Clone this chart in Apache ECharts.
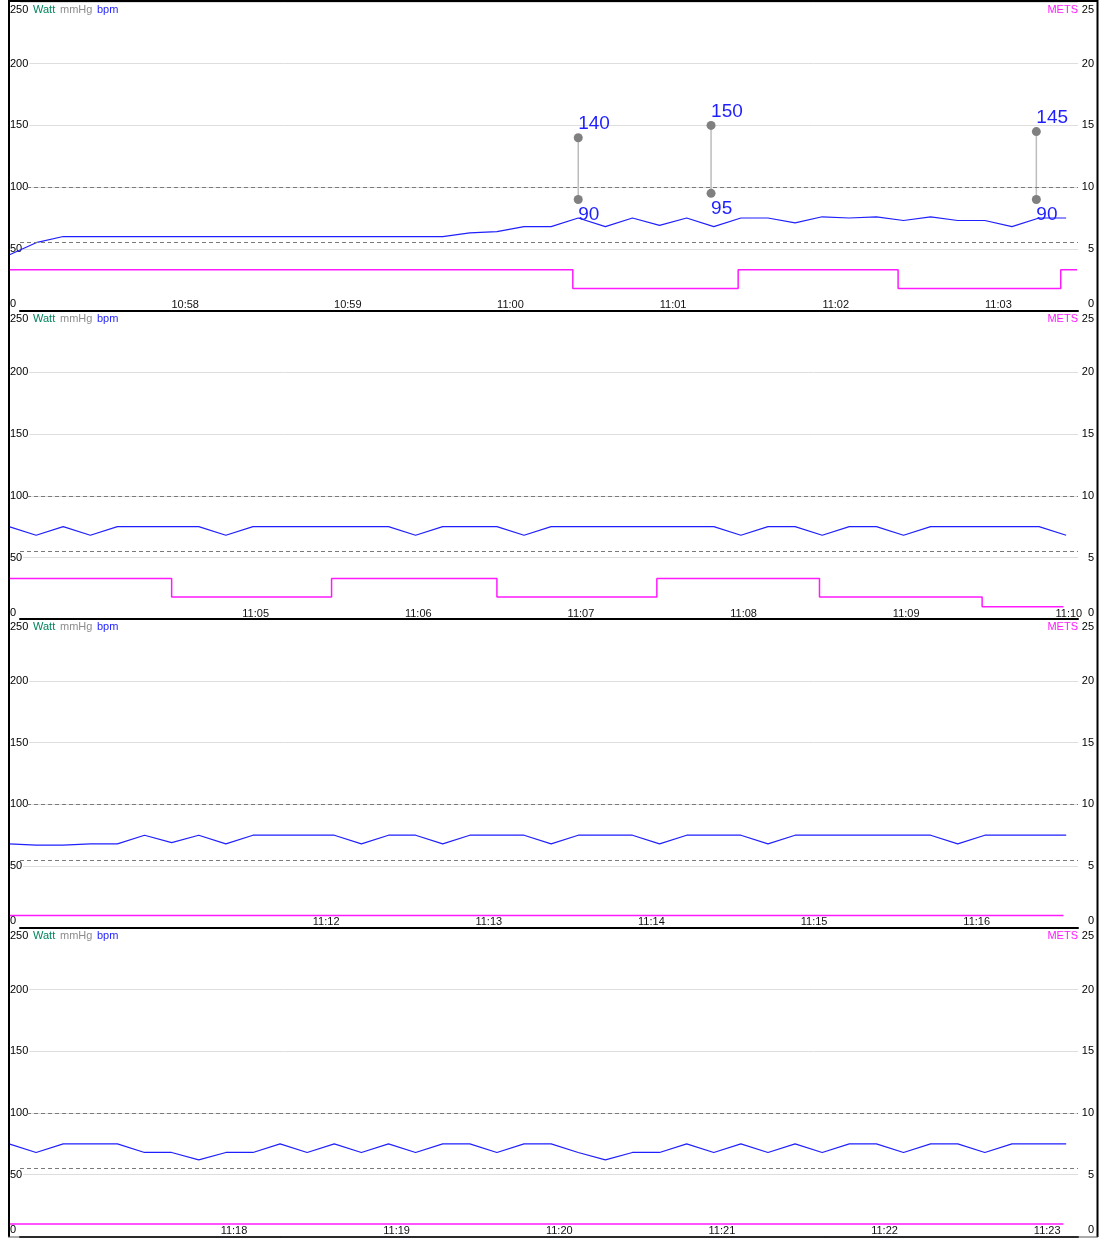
<!DOCTYPE html>
<html>
<head>
<meta charset="utf-8">
<title>HR / METS trend</title>
<script src="https://cdn.jsdelivr.net/npm/echarts@6/dist/echarts.min.js"></script>
<style>
  html, body { margin: 0; padding: 0; background: #fff; }
  #chart { width: 1100px; height: 1243px; }
</style>
</head>
<body>
<div id="chart"></div>
<script>
// each row shows 394 s of the recording
var rowStarts = ['10:56:55', '11:03:29', '11:10:03', '11:16:37']
var rowSeconds = 394
var rowTicks = [
  ['10:58', '10:59', '11:00', '11:01', '11:02', '11:03'],
  ['11:05', '11:06', '11:07', '11:08', '11:09', '11:10'],
  ['11:12', '11:13', '11:14', '11:15', '11:16'],
  ['11:18', '11:19', '11:20', '11:21', '11:22', '11:23']
]

// heart rate (bpm), one reading every 10 s from the row start
var hrStep = 10
var hrRow1 = [45, 55, 60, 60, 60, 60, 60, 60, 60, 60, 60, 60, 60, 60, 60, 60, 60, 63, 64, 68,
  68, 75, 68, 75, 69, 75, 68, 75, 75, 71, 76, 75, 76, 73, 76, 73, 73, 68, 75, 75]
var hrRow2 = [75, 68, 75, 68, 75, 75, 75, 75, 68, 75, 75, 75, 75, 75, 75, 68, 75, 75, 75, 68,
  75, 75, 75, 75, 75, 75, 75, 68, 75, 75, 68, 75, 75, 68, 75, 75, 75, 75, 75, 68]
var hrRow3 = [68, 67, 67, 68, 68, 75, 69, 75, 68, 75, 75, 75, 75, 68, 75, 75, 68, 75, 75, 75,
  68, 75, 75, 75, 68, 75, 75, 75, 68, 75, 75, 75, 75, 75, 75, 68, 75, 75, 75, 75]
var hrRow4 = [75, 68, 75, 75, 75, 68, 68, 62, 68, 68, 75, 68, 75, 68, 75, 68, 75, 75, 68, 75,
  75, 68, 62, 68, 68, 75, 68, 75, 68, 75, 68, 75, 75, 68, 75, 75, 68, 75, 75, 75]
var hrRows = [hrRow1, hrRow2, hrRow3, hrRow4]
var hrLimits = [100, 55]

// METS: each value holds from its time until the next one
var metsTimes = [
  ['10:56:55', '11:00:23', '11:01:24', '11:02:23', '11:03:23', '11:03:29'],
  ['11:03:29', '11:04:29', '11:05:28', '11:06:29', '11:07:28', '11:08:28', '11:09:28', '11:09:58'],
  ['11:10:03', '11:16:32'],
  ['11:16:37', '11:23:06']
]
var metsValues = [
  [3.3, 1.8, 3.3, 1.8, 3.3, 3.3],
  [3.3, 1.8, 3.3, 1.8, 3.3, 1.8, 1.0, 1.0],
  [1.0, 1.0],
  [1.0, 1.0]
]

// blood pressure (mmHg)
var bpTimes = ['11:00:25', '11:01:14', '11:03:14']
var bpSys = [140, 150, 145]
var bpDia = [90, 95, 90]

var FONT = '"Liberation Sans", Arial, sans-serif'
var BLUE = '#1f1fff'
var PINK = '#ff1aff'

function sec (s) {
  var p = s.split(':')
  return (+p[0]) * 3600 + (+p[1]) * 60 + (+(p[2] || 0))
}
function hhmm (v) {
  var m = Math.round(v / 60)
  var h = Math.floor(m / 60)
  m = m % 60
  return h + ':' + (m < 10 ? '0' + m : m)
}

var chart = echarts.init(document.getElementById('chart'))
var rowH = 308.6
var grids = []; var xAxes = []; var yAxes = []; var series = []; var graphics = []

rowStarts.forEach(function (s, r) {
  var t0 = sec(s)
  var t1 = t0 + rowSeconds
  var top = 2 + rowH * r
  var gBg = grids.length
  grids.push({ left: 20, right: 22, top: top, height: rowH })
  grids.push({ left: 9, right: 23, top: top, height: rowH })

  // background grid: grid lines and the black base line
  xAxes.push({
    gridIndex: gBg, type: 'value', min: 0, max: 1, z: 0,
    axisLine: { show: true, onZero: false, lineStyle: { color: '#000', width: 2 } },
    axisTick: { show: false }, axisLabel: { show: false }, splitLine: { show: false }
  })
  var yBg = yAxes.length
  yAxes.push({
    gridIndex: gBg, type: 'value', min: 0, max: 250, interval: 50, z: 0,
    axisLine: { show: false }, axisTick: { show: false }, axisLabel: { show: false },
    splitLine: { show: true, lineStyle: { color: '#dedede', width: 1 } }
  })

  // data grid
  var xData = xAxes.length
  xAxes.push({
    gridIndex: gBg + 1, type: 'value', min: t0, max: t1, z: 1,
    axisLine: { show: false }, axisTick: { show: false }, splitLine: { show: false },
    axisLabel: {
      inside: true, margin: 0, color: '#111', fontSize: 11, fontFamily: FONT,
      customValues: rowTicks[r].map(sec), formatter: hhmm
    }
  })
  var yLeft = yAxes.length
  yAxes.push({
    gridIndex: gBg + 1, type: 'value', position: 'left', min: 0, max: 250, interval: 50, z: 1,
    axisLine: { show: false }, axisTick: { show: false }, splitLine: { show: false },
    axisLabel: {
      inside: true, margin: 1, color: '#000', fontSize: 11, fontFamily: FONT,
      formatter: function (v) { return v === 250 ? '{hi|250}' : v === 0 ? '{lo|0}' : '{n|' + v + '}' },
      rich: {
        hi: { fontSize: 11, fontFamily: FONT, color: '#000', padding: [16, 0, 0, 0] },
        lo: { fontSize: 11, fontFamily: FONT, color: '#000', padding: [0, 0, 13, 0] },
        n: { fontSize: 11, fontFamily: FONT, color: '#000', backgroundColor: '#fff', padding: [0, 1, 0, 0] }
      }
    }
  })
  var yRight = yAxes.length
  yAxes.push({
    gridIndex: gBg + 1, type: 'value', position: 'right', min: 0, max: 25, interval: 5, z: 1,
    axisLine: { show: false }, axisTick: { show: false }, splitLine: { show: false },
    axisLabel: {
      margin: 17, align: 'right', color: '#000', fontSize: 11, fontFamily: FONT,
      formatter: function (v) { return v === 25 ? '{hi|25}' : v === 0 ? '{lo|0}' : '{n|' + v + '}' },
      rich: {
        hi: { fontSize: 11, fontFamily: FONT, color: '#000', padding: [16, 0, 0, 0] },
        lo: { fontSize: 11, fontFamily: FONT, color: '#000', padding: [0, 0, 13, 0] },
        n: { fontSize: 11, fontFamily: FONT, color: '#000' }
      }
    }
  })

  // dashed limit lines
  series.push({
    type: 'line', xAxisIndex: gBg, yAxisIndex: yBg, data: [], z: 0, silent: true,
    markLine: {
      silent: true, symbol: 'none', animation: false,
      label: { show: false },
      lineStyle: { color: '#7a7a7a', type: [4, 3], width: 1 },
      data: hrLimits.map(function (v) { return { yAxis: v } })
    }
  })

  // METS
  series.push({
    name: 'METS', type: 'line', step: 'end', xAxisIndex: xData, yAxisIndex: yRight,
    showSymbol: false, lineStyle: { color: PINK, width: 1.5 }, z: 2,
    data: metsTimes[r].map(function (t, i) { return [sec(t), metsValues[r][i]] })
  })

  // heart rate
  series.push({
    name: 'bpm', type: 'line', xAxisIndex: xData, yAxisIndex: yLeft,
    showSymbol: false, lineStyle: { color: BLUE, width: 1.2 }, z: 3,
    data: hrRows[r].map(function (v, i) { return [t0 + i * hrStep, v] })
  })

  // blood pressure readings in this row
  bpTimes.forEach(function (bt, i) {
    var t = sec(bt)
    if (t < t0 || t > t1) return
    series.push({
      name: 'mmHg', type: 'line', xAxisIndex: xData, yAxisIndex: yLeft, z: 4,
      symbol: 'circle', symbolSize: 9, showSymbol: true,
      itemStyle: { color: '#808080' },
      lineStyle: { color: '#bdbdbd', width: 1.5 },
      label: { show: true, color: BLUE, fontSize: 19, fontFamily: FONT, align: 'left' },
      data: [
        { value: [t, bpSys[i]], label: { position: 'top', distance: 0 } },
        { value: [t, bpDia[i]], label: { position: 'bottom', distance: 1 } }
      ]
    })
  })

  // legend texts
  var ly = top + 8
  graphics.push(
    { type: 'text', x: 33, y: ly, style: { text: 'Watt', fill: '#00845c', font: '11px ' + FONT, verticalAlign: 'middle' } },
    { type: 'text', x: 60, y: ly, style: { text: 'mmHg', fill: '#8c8c8c', font: '11px ' + FONT, verticalAlign: 'middle' } },
    { type: 'text', x: 97, y: ly, style: { text: 'bpm', fill: BLUE, font: '11px ' + FONT, verticalAlign: 'middle' } },
    { type: 'text', x: 1078, y: ly, style: { text: 'METS', fill: PINK, font: '11px ' + FONT, align: 'right', verticalAlign: 'middle' } }
  )
})

// frame
graphics.push(
  { type: 'line', z: 10, shape: { x1: 9, y1: 0, x2: 9, y2: 1237 }, style: { stroke: '#000', lineWidth: 2 } },
  { type: 'line', z: 10, shape: { x1: 1097.5, y1: 0, x2: 1097.5, y2: 1237 }, style: { stroke: '#000', lineWidth: 2 } },
  { type: 'line', z: 10, shape: { x1: 8, y1: 1, x2: 1098, y2: 1 }, style: { stroke: '#000', lineWidth: 2 } },
  { type: 'line', z: 10, shape: { x1: 8, y1: 1237, x2: 1098, y2: 1237 }, style: { stroke: '#555', lineWidth: 1 } }
)

chart.setOption({
  animation: false,
  backgroundColor: '#fff',
  grid: grids,
  xAxis: xAxes,
  yAxis: yAxes,
  series: series,
  graphic: graphics
})
</script>
</body>
</html>
